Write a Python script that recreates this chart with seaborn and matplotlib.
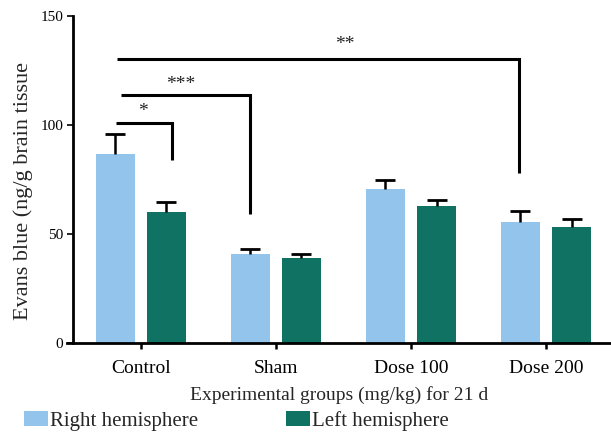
import numpy as np
import pandas as pd
import matplotlib
matplotlib.use("Agg")
import matplotlib.pyplot as plt
import seaborn as sns
from matplotlib.patches import Patch

# ---- data ----
categories = ["Control", "Sham", "Dose 100", "Dose 200"]
series_names = ["Right hemisphere", "Left hemisphere"]
right_vals = [86.5, 40.7, 70.6, 55.6]
right_err = [9.2, 2.6, 4.1, 5.0]
left_vals = [60.0, 39.0, 62.8, 53.0]
left_err = [4.5, 2.0, 2.7, 4.1]
y_ticks = [0, 50, 100, 150]

# significance brackets: (start x, end x, bar y, drop-to y, label, label x, label y)
brackets = [
    (-0.182, 0.229, 101.0, 83.9, "*", 0.015, 106.0),
    (-0.148, 0.809, 113.7, 59.4, "***", 0.296, 118.5),
    (-0.177, 2.802, 130.1, 78.2, "**", 1.512, 137.0),
]

colors = ["#93c4ec", "#0f7262"]

df = pd.DataFrame({
    "group": categories * 2,
    "side": [series_names[0]] * 4 + [series_names[1]] * 4,
    "value": right_vals + left_vals,
})

sns.set_style("ticks")
plt.rcParams["font.family"] = ["Liberation Serif", "DejaVu Serif"]

fig = plt.figure(figsize=(6.11, 4.33), dpi=100)
ax = fig.add_axes([67 / 611, 1 - 343 / 433, 1 - 67 / 611, (343 - 16) / 433])

sns.barplot(data=df, x="group", y="value", hue="side", order=categories,
            hue_order=series_names, palette=colors, width=0.76, gap=0.24,
            errorbar=None, saturation=1, ax=ax, legend=False, linewidth=0)

# error bars (upper only), placed on the drawn bars
errs = [right_err, left_err]
bar_containers = list(ax.containers)
for i, cont in enumerate(bar_containers):
    xs = [p.get_x() + p.get_width() / 2 for p in cont.patches]
    ys = [p.get_height() for p in cont.patches]
    _, caps, _ = ax.errorbar(xs, ys, yerr=[np.zeros(len(ys)), errs[i]], fmt="none",
                             ecolor="black", elinewidth=1.8, capsize=7, capthick=2.0,
                             zorder=3)
    caps[0].set_visible(False)

# brackets
for x0, x1, yb, yd, lab, lx, ly in brackets:
    ax.plot([x0, x1, x1], [yb, yb, yd], color="black", lw=2.2,
            solid_joinstyle="miter", solid_capstyle="butt", zorder=3)
    ax.text(lx, ly, lab, ha="center", va="center", fontsize=14, color="#222222")

ax.set_xlim(-0.5455, 3.481)
ax.set_ylim(0, 150)
ax.set_yticks(y_ticks)
ax.spines["left"].set_position(("data", -0.5))
ax.spines["top"].set_visible(False)
ax.spines["right"].set_visible(False)
ax.spines["left"].set_linewidth(2)
ax.spines["bottom"].set_linewidth(2)
ax.spines["left"].set_color("black")
ax.spines["bottom"].set_color("black")
ax.tick_params(axis="x", direction="out", length=4, width=1.8, color="black",
               labelsize=14, pad=8, labelcolor="black")
ax.tick_params(axis="y", direction="out", length=4, width=1.2, color="black",
               labelsize=11, pad=3, labelcolor="black")

ax.set_xlabel("Experimental groups (mg/kg) for 21 d", fontsize=14, labelpad=7)
ax.set_ylabel("Evans blue (ng/g brain tissue", fontsize=16)
ax.yaxis.set_label_coords(-0.062, 0.465)

handles = [Patch(facecolor=c, edgecolor="none") for c in colors]
fig.legend(handles, series_names, loc="center left", bbox_to_anchor=(24 / 611, 1 - 421 / 433),
           ncol=2, frameon=False, fontsize=15, handlelength=1.15, handleheight=0.72,
           handletextpad=0.1, columnspacing=4.2, borderpad=0, borderaxespad=0)

fig.savefig("out.png", dpi=100)
